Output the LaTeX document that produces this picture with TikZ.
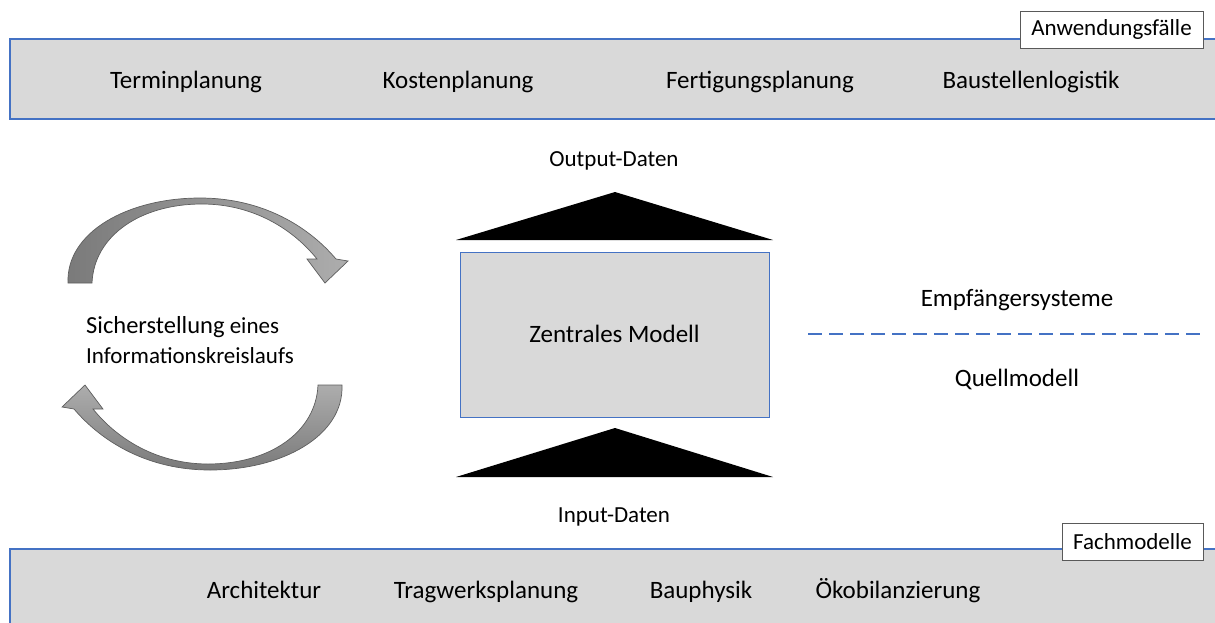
\documentclass[tikz,border=0pt]{standalone}
\usepackage{fontspec}
\setmainfont{Carlito}
\definecolor{barfill}{HTML}{D9D9D9}
\definecolor{bblue}{HTML}{4472C4}
\definecolor{adark}{HTML}{7A7A7A}
\definecolor{alight}{HTML}{ADADAD}
\definecolor{aedge}{HTML}{5E5E5E}
\tikzset{
  bigtxt/.style={font=\fontsize{25}{30}\selectfont, inner sep=0pt, anchor=base},
  midtxt/.style={font=\fontsize{23}{30}\selectfont, inner sep=0pt, anchor=base},
  tagbox/.style={draw=gray!70!black, line width=0.8pt, fill=white, font=\fontsize{23}{28}\selectfont, inner sep=0pt, minimum height=37pt},
  bar/.style={fill=barfill, draw=bblue, line width=1.6pt},
  tri/.style={fill=black},
  arc arrow/.style={draw=aedge, line width=0.7pt},
}
\begin{document}
\begin{tikzpicture}[x=1pt,y=-1pt]
\useasboundingbox (0,0) rectangle (1215,622);
% top bar
\path[bar] (10,39) rectangle (1220,119);
\node[tagbox, minimum width=183pt] (anw) at (1111.5,29.5) {Anwendungsfälle};
\node[bigtxt] (t1) at (186,88) {Terminplanung};
\node[bigtxt] (t2) at (458,88) {Kostenplanung};
\node[bigtxt] (t3) at (760,88) {Fertigungsplanung};
\node[bigtxt] (t4) at (1031,88) {Baustellenlogistik};
% bottom bar
\path[bar] (10,549) rectangle (1220,630);
\node[tagbox, minimum width=141pt] (fach) at (1132.5,541.5) {Fachmodelle};
\node[bigtxt] (b1) at (264,598) {Architektur};
\node[bigtxt] (b2) at (486,598) {Tragwerksplanung};
\node[bigtxt] (b3) at (701,598) {Bauphysik};
\node[bigtxt] (b4) at (898,598) {Ökobilanzierung};
% central
\node[midtxt] (out) at (614,166) {Output-Daten};
\fill[tri] (456,240) -- (615,192) -- (773,240) -- cycle;
\node[fill=barfill, draw=bblue, line width=0.8pt, minimum width=309pt, minimum height=165pt, inner sep=0pt] (zm) at (614.5,334.5) {};
\node[bigtxt] (zmt) at ([yshift=-8pt]zm.center) {Zentrales Modell};
\fill[tri] (456,477) -- (615,428) -- (773,477) -- cycle;
\node[midtxt] (in) at (614,522) {Input-Daten};
% right side
\node[bigtxt] (emp) at (1017,306) {Empfängersysteme};
\coordinate (d1) at (808,334);
\coordinate (d2) at (1205,334);
\draw[bblue, line width=1.6pt, dash pattern=on 14pt off 7pt] (d1) -- (d2);
\node[bigtxt] (quel) at (1017,386) {Quellmodell};
% left text
\node[anchor=base west, inner sep=0pt] (sich1) at (86,333) {{\fontsize{24.5}{30}\selectfont Sicherstellung}{\fontsize{23}{30}\selectfont{} eines}};
\node[anchor=base west, inner sep=0pt, font=\fontsize{23}{30}\selectfont] (sich2) at (86,363) {Informationskreislaufs};
% curved arrows
\shade[arc arrow, left color=adark, right color=alight]
  (68,283) .. controls (66,232) and (128,198) .. (200,198)
  .. controls (262,198) and (308,226) .. (336,259)
  -- (348,261) -- (325,283) -- (307,259) -- (317,259)
  .. controls (292,228) and (252,204) .. (202,204)
  .. controls (140,204) and (94,236) .. (92,283) -- cycle;
\begin{scope}[rotate around={180:(205,334)}]
\shade[arc arrow, left color=adark, right color=alight, shading angle=180]
  (68,283) .. controls (66,232) and (128,198) .. (200,198)
  .. controls (262,198) and (308,226) .. (336,259)
  -- (348,261) -- (325,283) -- (307,259) -- (317,259)
  .. controls (292,228) and (252,204) .. (202,204)
  .. controls (140,204) and (94,236) .. (92,283) -- cycle;
\end{scope}
\end{tikzpicture}
\end{document}
